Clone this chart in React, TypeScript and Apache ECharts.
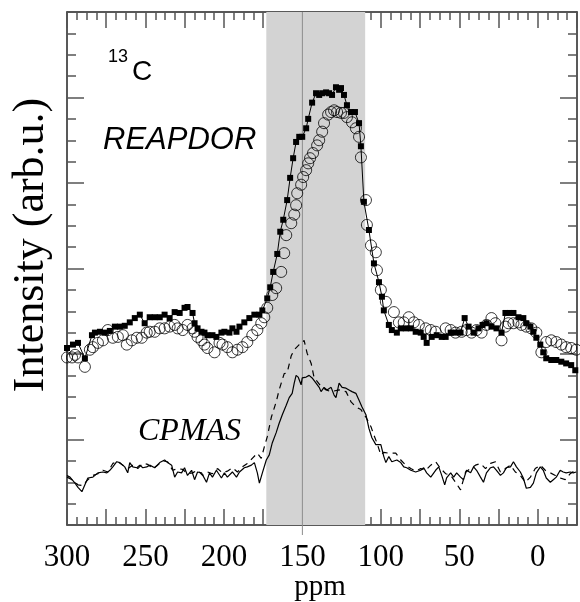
import React, { useEffect, useRef } from "react";
import * as echarts from "echarts";

// x ticks (ppm) and band
const xTickLabels = [300, 250, 200, 150, 100, 50, 0];
const bandPpm = [173, 110];
const markerPpm = [150];

// REAPDOR filled squares
const squaresPpm = [
  300.0, 296.2, 293.0, 288.6, 284.1, 282.2, 279.0, 275.9, 272.7, 269.5,
  266.3, 263.2, 260.0, 256.8, 253.6, 250.5, 247.3, 244.1, 240.9, 237.8,
  234.6, 231.4, 228.2, 225.1, 223.2, 220.0, 218.7, 216.8, 214.3, 212.4,
  210.5, 207.3, 204.8, 201.6, 199.7, 196.5, 194.6, 192.0, 190.1, 187.0,
  183.8, 180.6, 177.4, 175.5, 172.4, 170.5, 168.6, 166.0, 164.1, 162.2,
  159.7, 157.8, 155.9, 154.0, 152.0, 150.1, 147.6, 146.3, 143.8, 141.3,
  139.3, 137.4, 134.9, 133.0, 131.1, 128.6, 126.6, 125.4, 123.5, 121.6,
  119.0, 116.5, 113.9, 112.7, 110.8, 107.6, 104.4, 101.2, 99.3, 98.1,
  94.9, 93.0, 89.8, 87.3, 84.1, 80.9, 77.8, 74.6, 72.7, 70.8,
  67.6, 64.4, 61.2, 58.7, 55.5, 52.4, 49.2, 46.6, 44.1, 40.9,
  37.8, 35.2, 32.7, 29.5, 26.3, 23.1, 20.6, 18.1, 15.5, 12.3,
  9.2, 7.3, 4.7, 2.8, 0.9, -1.6, -3.5, -5.4, -8.6, -11.8,
  -15.0, -18.1, -21.3, -23.9,
];
const squaresInt = [
  2.07, 2.11, 2.13, 1.95, 2.22, 2.25, 2.26, 2.25, 2.27, 2.32,
  2.32, 2.33, 2.37, 2.42, 2.46, 2.36, 2.43, 2.43, 2.43, 2.46,
  2.42, 2.49, 2.48, 2.54, 2.55, 2.48, 2.36, 2.30, 2.26, 2.25,
  2.22, 2.22, 2.20, 2.25, 2.26, 2.25, 2.30, 2.26, 2.32, 2.37,
  2.42, 2.46, 2.46, 2.51, 2.65, 2.78, 2.96, 3.17, 3.43, 3.57,
  3.80, 4.06, 4.29, 4.48, 4.54, 4.54, 4.64, 4.75, 4.94, 5.05,
  5.03, 5.05, 5.06, 5.05, 5.03, 5.12, 5.09, 5.11, 5.03, 4.91,
  4.83, 4.83, 4.70, 4.43, 3.78, 3.45, 3.06, 2.84, 2.67, 2.51,
  2.34, 2.28, 2.25, 2.30, 2.30, 2.30, 2.26, 2.25, 2.20, 2.13,
  2.20, 2.22, 2.20, 2.20, 2.25, 2.25, 2.25, 2.42, 2.32, 2.25,
  2.30, 2.34, 2.36, 2.32, 2.30, 2.25, 2.48, 2.48, 2.48, 2.43,
  2.42, 2.36, 2.32, 2.26, 2.19, 2.11, 2.02, 1.95, 1.93, 1.93,
  1.91, 1.89, 1.87, 1.81,
];

// REAPDOR open circles
const circlesPpm = [
  300.0, 296.8, 294.9, 293.0, 288.6, 285.4, 283.5, 280.3, 277.1, 274.0,
  270.8, 267.6, 264.4, 261.9, 258.7, 255.5, 252.4, 249.2, 247.3, 244.1,
  240.9, 237.8, 234.6, 231.4, 229.5, 226.3, 223.2, 220.0, 218.7, 216.8,
  214.3, 212.4, 210.5, 206.0, 202.8, 200.9, 197.8, 194.6, 191.4, 188.2,
  185.1, 181.9, 178.7, 176.2, 174.3, 172.4, 169.2, 166.7, 163.5, 161.6,
  160.3, 157.1, 155.2, 154.0, 153.3, 150.8, 149.5, 147.6, 146.3, 145.1,
  143.2, 140.6, 139.3, 137.4, 136.2, 133.6, 131.7, 129.8, 127.9, 125.4,
  123.5, 121.6, 118.4, 115.9, 113.9, 112.7, 109.5, 108.9, 106.3, 103.2,
  102.5, 100.0, 96.8, 91.7, 88.5, 85.4, 82.2, 79.0, 75.8, 71.4,
  68.2, 65.1, 58.7, 55.5, 52.4, 48.5, 45.4, 42.2, 39.0, 35.8,
  32.7, 29.5, 27.0, 23.1, 20.6, 18.7, 15.5, 12.3, 10.4, 7.3,
  4.1, 0.9, -2.3, -5.4, -8.6, -11.8, -15.0, -18.1, -21.3, -24.5,
];
const circlesInt = [
  1.96, 1.96, 1.99, 1.96, 1.85, 2.05, 2.08, 2.13, 2.16, 2.28,
  2.19, 2.20, 2.22, 2.11, 2.16, 2.19, 2.19, 2.25, 2.26, 2.26,
  2.30, 2.30, 2.32, 2.34, 2.30, 2.28, 2.34, 2.30, 2.26, 2.20,
  2.16, 2.11, 2.07, 2.02, 2.13, 2.11, 2.08, 2.02, 2.05, 2.08,
  2.14, 2.22, 2.28, 2.36, 2.43, 2.54, 2.69, 2.77, 2.96, 3.18,
  3.39, 3.53, 3.63, 3.74, 3.88, 3.98, 4.07, 4.15, 4.23, 4.29,
  4.35, 4.44, 4.50, 4.60, 4.70, 4.80, 4.83, 4.85, 4.83, 4.82,
  4.82, 4.77, 4.71, 4.64, 4.54, 4.30, 3.80, 3.51, 3.27, 3.19,
  2.98, 2.75, 2.61, 2.49, 2.37, 2.37, 2.43, 2.37, 2.34, 2.30,
  2.28, 2.26, 2.30, 2.28, 2.25, 2.26, 2.28, 2.25, 2.28, 2.25,
  2.34, 2.42, 2.36, 2.16, 2.32, 2.36, 2.36, 2.37, 2.34, 2.32,
  2.30, 2.25, 2.02, 2.14, 2.16, 2.14, 2.11, 2.08, 2.07, 2.05,
];

// CPMAS solid spectrum
const cpSolidPpm = [
  300.0, 298.1, 294.9, 293.0, 290.5, 288.6, 286.7, 283.5, 280.3, 277.1,
  274.6, 272.7, 270.8, 268.3, 266.3, 263.2, 261.3, 260.0, 258.1, 255.5,
  253.6, 251.7, 249.2, 247.3, 244.1, 240.9, 237.8, 235.9, 233.3, 231.4,
  229.5, 227.0, 225.1, 223.2, 220.6, 218.7, 216.8, 214.3, 211.1, 209.2,
  207.3, 204.8, 201.6, 199.7, 197.8, 194.6, 192.0, 190.1, 187.0, 185.1,
  182.5, 180.6, 178.7, 177.4, 175.5, 173.0, 171.1, 169.2, 166.7, 164.8,
  162.8, 160.3, 158.4, 156.5, 155.2, 154.0, 152.7, 150.8, 150.1, 147.6,
  145.7, 143.8, 141.3, 139.3, 138.1, 136.2, 134.3, 131.7, 129.8, 128.6,
  126.6, 124.7, 122.2, 120.3, 118.4, 115.9, 113.9, 112.0, 109.5, 107.6,
  105.7, 103.2, 100.0, 98.1, 96.8, 94.9, 93.0, 89.8, 87.3, 85.4,
  83.5, 80.9, 77.8, 74.6, 72.7, 70.8, 68.2, 65.1, 63.1, 61.2,
  59.3, 58.1, 55.5, 53.6, 51.7, 49.2, 47.3, 45.4, 42.8, 40.9,
  39.0, 36.5, 34.6, 32.7, 30.1, 28.2, 26.3, 23.8, 21.9, 20.0,
  17.4, 15.5, 13.6, 11.1, 9.2, 7.3, 4.7, 2.8, 0.9, -1.6,
  -3.5, -5.4, -8.0, -9.9, -11.8, -14.3, -16.2, -18.1, -20.7, -22.6,
  -24.5,
];
const cpSolidInt = [
  0.58, 0.56, 0.49, 0.44, 0.39, 0.47, 0.55, 0.56, 0.61, 0.62,
  0.61, 0.64, 0.68, 0.74, 0.73, 0.68, 0.61, 0.73, 0.68, 0.67,
  0.70, 0.67, 0.68, 0.70, 0.67, 0.73, 0.76, 0.73, 0.70, 0.56,
  0.62, 0.61, 0.67, 0.58, 0.64, 0.53, 0.62, 0.61, 0.50, 0.61,
  0.56, 0.64, 0.55, 0.61, 0.56, 0.62, 0.56, 0.62, 0.67, 0.68,
  0.70, 0.73, 0.61, 0.49, 0.61, 0.76, 0.82, 0.96, 1.08, 1.19,
  1.29, 1.40, 1.49, 1.54, 1.66, 1.75, 1.73, 1.64, 1.72, 1.73,
  1.75, 1.72, 1.66, 1.61, 1.56, 1.61, 1.58, 1.61, 1.52, 1.49,
  1.66, 1.61, 1.60, 1.58, 1.56, 1.54, 1.46, 1.38, 1.29, 1.13,
  1.02, 0.94, 0.94, 0.80, 0.73, 0.80, 0.74, 0.76, 0.73, 0.68,
  0.67, 0.64, 0.62, 0.64, 0.67, 0.61, 0.56, 0.64, 0.68, 0.58,
  0.47, 0.55, 0.61, 0.56, 0.61, 0.56, 0.53, 0.64, 0.61, 0.68,
  0.64, 0.56, 0.50, 0.61, 0.67, 0.68, 0.64, 0.58, 0.61, 0.67,
  0.68, 0.74, 0.68, 0.62, 0.55, 0.43, 0.44, 0.49, 0.61, 0.68,
  0.64, 0.55, 0.50, 0.53, 0.56, 0.64, 0.62, 0.61, 0.62, 0.61,
  0.62,
];

// CPMAS dashed spectrum
const cpDashPpm = [
  300.0, 296.8, 293.0, 289.9, 286.7, 283.5, 280.3, 277.1, 273.9, 270.8,
  267.6, 264.4, 261.3, 258.1, 254.9, 251.7, 248.6, 245.4, 242.2, 239.0,
  235.9, 232.7, 229.5, 226.3, 223.2, 220.0, 216.8, 213.6, 210.5, 207.3,
  204.1, 201.0, 197.8, 194.6, 191.4, 188.2, 185.1, 181.9, 178.7, 176.2,
  174.3, 172.4, 169.8, 166.7, 164.8, 161.6, 159.7, 157.1, 155.2, 152.0,
  150.1, 148.9, 147.0, 144.4, 142.5, 140.6, 138.1, 134.9, 131.7, 126.6,
  122.2, 119.0, 115.9, 112.7, 109.5, 106.3, 104.4, 102.5, 100.0, 98.1,
  94.9, 90.5, 87.3, 84.1, 80.9, 77.8, 74.6, 71.4, 68.2, 65.1,
  61.9, 58.7, 55.5, 52.4, 49.2, 46.0, 42.8, 39.7, 36.5, 33.3,
  30.1, 27.0, 23.8, 20.6, 17.4, 14.3, 11.1, 7.9, 4.7, 1.6,
  -1.6, -4.8, -8.0, -11.2, -14.3, -17.5, -20.7, -23.9,
];
const cpDashInt = [
  0.56, 0.53, 0.47, 0.46, 0.53, 0.58, 0.60, 0.64, 0.62, 0.72,
  0.74, 0.70, 0.66, 0.70, 0.66, 0.72, 0.71, 0.66, 0.70, 0.75,
  0.74, 0.64, 0.66, 0.65, 0.60, 0.61, 0.64, 0.58, 0.62, 0.60,
  0.66, 0.61, 0.63, 0.67, 0.62, 0.68, 0.72, 0.78, 0.84, 0.78,
  0.91, 1.03, 1.26, 1.44, 1.58, 1.77, 1.78, 1.98, 2.05, 2.11,
  2.13, 2.16, 2.01, 1.89, 1.72, 1.68, 1.62, 1.58, 1.56, 1.58,
  1.56, 1.44, 1.38, 1.35, 1.26, 1.15, 1.05, 0.96, 0.82, 0.85,
  0.84, 0.84, 0.76, 0.70, 0.66, 0.63, 0.66, 0.64, 0.70, 0.74,
  0.66, 0.60, 0.58, 0.50, 0.41, 0.62, 0.66, 0.70, 0.72, 0.66,
  0.72, 0.74, 0.62, 0.66, 0.70, 0.62, 0.58, 0.50, 0.56, 0.66,
  0.70, 0.64, 0.61, 0.58, 0.55, 0.53, 0.60, 0.64,
];

const zip = (xs: number[], ys: number[]) => xs.map((x, i) => [x, ys[i]]);

const SERIF = "'Liberation Serif', 'Times New Roman', serif";
const SANS = "'Liberation Sans', Arial, sans-serif";

export default function App() {
  const ref = useRef<HTMLDivElement>(null);
  useEffect(() => {
    if (!ref.current) return;
    const chart = echarts.init(ref.current, null, { renderer: "svg" });

    const axisLine = { show: true, onZero: false, lineStyle: { color: "#222", width: 1.5 } };
    const xTick = { show: true, inside: true, length: 16, lineStyle: { color: "#555", width: 1.5 } };
    const xMinor = { show: true, splitNumber: 4, length: 8, lineStyle: { color: "#555", width: 1.5 } };
    const yTick = { show: true, inside: true, length: 17, lineStyle: { color: "#555", width: 1.5 } };
    const yMinor = { show: true, splitNumber: 4, length: 9, lineStyle: { color: "#555", width: 1.5 } };

    const xBase = {
      type: "value",
      min: -25,
      max: 300,
      interval: 25,
      inverse: true,
      axisLine,
      axisTick: xTick,
      minorTick: xMinor,
      splitLine: { show: false },
      minorSplitLine: { show: false },
    };
    const yBase = {
      type: "value",
      min: 0,
      max: 6,
      interval: 1,
      axisLine,
      axisTick: yTick,
      minorTick: yMinor,
      axisLabel: { show: false },
      splitLine: { show: false },
      minorSplitLine: { show: false },
    };

    chart.setOption({
      animation: false,
      grid: { left: 67, top: 12, width: 512, height: 513, containLabel: false },
      xAxis: [
        {
          ...xBase,
          position: "bottom",
          axisLabel: {
            show: true,
            margin: 15,
            color: "#000",
            fontFamily: SERIF,
            fontSize: 31,
            formatter: (v: number) => (xTickLabels.includes(v) ? String(v) : ""),
          },
        },
        { ...xBase, position: "top", axisLabel: { show: false } },
      ],
      yAxis: [
        { ...yBase, position: "left" },
        { ...yBase, position: "right" },
      ],
      series: [
        {
          type: "custom",
          name: "band",
          z: 1,
          silent: true,
          xAxisIndex: 0,
          yAxisIndex: 0,
          data: [[bandPpm[0], bandPpm[1]]],
          encode: { x: [0, 1] },
          renderItem: (params: any, api: any) => {
            const a = api.coord([api.value(0), 6]);
            const b = api.coord([api.value(1), 0]);
            return {
              type: "rect",
              shape: {
                x: Math.min(a[0], b[0]),
                y: a[1],
                width: Math.abs(b[0] - a[0]),
                height: b[1] - a[1],
              },
              style: { fill: "#d3d3d3" },
            };
          },
        },
        {
          type: "custom",
          name: "marker",
          z: 2,
          silent: true,
          clip: false,
          xAxisIndex: 0,
          yAxisIndex: 0,
          data: markerPpm.map((p) => [p, 0]),
          renderItem: (params: any, api: any) => {
            const t = api.coord([api.value(0), 6]);
            const b = api.coord([api.value(0), 0]);
            return {
              type: "line",
              shape: { x1: t[0], y1: t[1], x2: t[0], y2: b[1] + 10 },
              style: { stroke: "#8c8c8c", lineWidth: 1 },
            };
          },
        },
        {
          type: "line",
          name: "CPMAS solid",
          z: 3,
          data: zip(cpSolidPpm, cpSolidInt),
          showSymbol: false,
          symbol: "none",
          lineStyle: { color: "#000", width: 1.2 },
        },
        {
          type: "line",
          name: "CPMAS dashed",
          z: 3,
          data: zip(cpDashPpm, cpDashInt),
          showSymbol: false,
          symbol: "none",
          lineStyle: { color: "#000", width: 1.2, type: [6, 5] },
        },
        {
          type: "scatter",
          name: "REAPDOR circles",
          z: 4,
          data: zip(circlesPpm, circlesInt),
          symbol: "circle",
          symbolSize: 11,
          itemStyle: { color: "rgba(0,0,0,0)", borderColor: "#000", borderWidth: 1 },
        },
        {
          type: "line",
          name: "REAPDOR squares",
          z: 5,
          data: zip(squaresPpm, squaresInt),
          symbol: "rect",
          symbolSize: 6,
          showSymbol: true,
          showAllSymbol: true,
          itemStyle: { color: "#000" },
          lineStyle: { color: "#000", width: 1 },
        },
      ],
      graphic: [
        {
          type: "text",
          x: 108,
          y: 56,
          style: { text: "13", font: `18px ${SANS}`, fill: "#000", textAlign: "left", textVerticalAlign: "middle" },
        },
        {
          type: "text",
          x: 132,
          y: 70,
          style: { text: "C", font: `28px ${SANS}`, fill: "#000", textAlign: "left", textVerticalAlign: "middle" },
        },
        {
          type: "text",
          x: 103,
          y: 138,
          style: { text: "REAPDOR", font: `italic 31px ${SANS}`, fill: "#000", textAlign: "left", textVerticalAlign: "middle" },
        },
        {
          type: "text",
          x: 138,
          y: 429,
          style: { text: "CPMAS", font: `italic 32px ${SERIF}`, fill: "#000", textAlign: "left", textVerticalAlign: "middle" },
        },
        {
          type: "text",
          x: 28,
          y: 245,
          rotation: Math.PI / 2,
          style: { text: "Intensity (arb.u.)", font: `44px ${SERIF}`, fill: "#000", textAlign: "center", textVerticalAlign: "middle" },
        },
        {
          type: "text",
          x: 320,
          y: 585,
          style: { text: "ppm", font: `29px ${SERIF}`, fill: "#000", textAlign: "center", textVerticalAlign: "middle" },
        },
      ],
    });
    return () => chart.dispose();
  }, []);
  return <div ref={ref} style={{ position: "fixed", left: 0, top: 0, width: 580, height: 602 }} />;
}
